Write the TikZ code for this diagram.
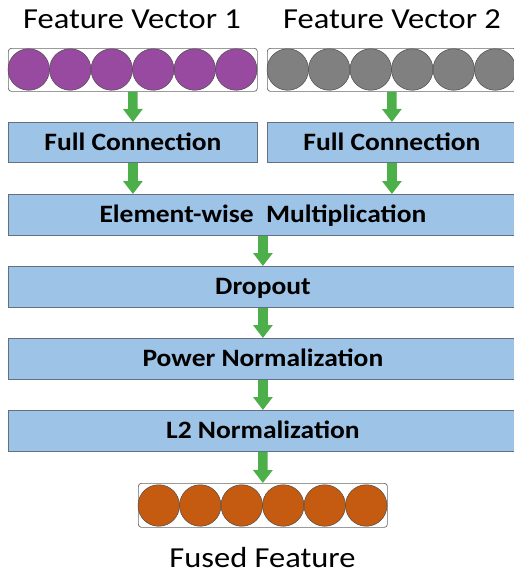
\documentclass[tikz,border=0pt]{standalone}
\usepackage{fontspec}
\setmainfont[FakeStretch=1.12]{Carlito}
\newfontfamily\boldfnt[FakeStretch=1.1]{Carlito Bold}
\usetikzlibrary{arrows.meta}
\definecolor{vpurple}{RGB}{152,74,160}
\definecolor{vgrey}{RGB}{128,128,128}
\definecolor{vorange}{RGB}{197,90,17}
\definecolor{boxblue}{RGB}{157,195,230}
\definecolor{boxedge}{RGB}{100,112,130}
\definecolor{arrgreen}{RGB}{77,175,74}
\tikzset{
  x=1pt, y=-1pt,
  vecbox/.style={draw=black!60, fill=white, rounded corners=3pt, line width=0.7pt, minimum height=43pt, inner sep=0pt, anchor=north west},
  ball/.style={circle, draw=black!70, line width=0.5pt, minimum size=41.5pt, inner sep=0pt},
  layer/.style={draw=boxedge, fill=boxblue, line width=0.8pt, minimum height=41pt, inner sep=0pt, anchor=north west,
    font=\boldfnt\fontsize{25}{30}\selectfont, text height=16pt, text depth=0pt},
  title/.style={font=\fontsize{29}{34}\selectfont, anchor=base, inner sep=0pt},
  flow/.style={draw=arrgreen, line width=9.5pt, -{Triangle[width=19pt,length=13pt]}},
}
\begin{document}
\begin{tikzpicture}
\useasboundingbox (0,0) rectangle (514,576);
\clip (0,0) rectangle (514,576);
% titles
\node[title] (t1) at (132,28) {Feature Vector 1};
\node[title] (t2) at (392,28) {Feature Vector 2};
% vector boxes
\node[vecbox, minimum width=249pt] (v1) at (8,48) {};
\node[vecbox, minimum width=249pt] (v2) at (267,48) {};
\foreach \i in {0,...,5} {
  \node[ball, fill=vpurple] (p\i) at ({8+20.75+41.5*\i},69.5) {};
  \node[ball, fill=vgrey] (g\i) at ({267+20.75+41.5*\i},69.5) {};
}
% layers
\node[layer, minimum width=249pt, minimum height=40pt] (fc1) at (8,122) {Full Connection};
\node[layer, minimum width=249pt, minimum height=40pt] (fc2) at (267,122) {Full Connection};
\node[layer, minimum width=509pt] (ew) at (8,194) {Element-wise~~Multiplication};
\node[layer, minimum width=509pt] (dr) at (8,266) {Dropout};
\node[layer, minimum width=509pt] (pn) at (8,338) {Power Normalization};
\node[layer, minimum width=509pt] (l2) at (8,410) {L2 Normalization};
% fused vector
\node[vecbox, minimum width=249pt, minimum height=44pt] (fv) at (138,483) {};
\foreach \i in {0,...,5} {
  \node[ball, fill=vorange] (o\i) at ({138+20.75+41.5*\i},505.5) {};
}
\node[title] (tf) at (262.5,567) {Fused Feature};
% arrows
\draw[flow] (v1.south) -- (fc1.north);
\draw[flow] (v2.south) -- (fc2.north);
\draw[flow] (fc1.south) -- (fc1.south |- ew.north);
\draw[flow] (fc2.south) -- (fc2.south |- ew.north);
\draw[flow] (ew.south) -- (dr.north);
\draw[flow] (dr.south) -- (pn.north);
\draw[flow] (pn.south) -- (l2.north);
\draw[flow] (l2.south) -- (fv.north);
\end{tikzpicture}
\end{document}
